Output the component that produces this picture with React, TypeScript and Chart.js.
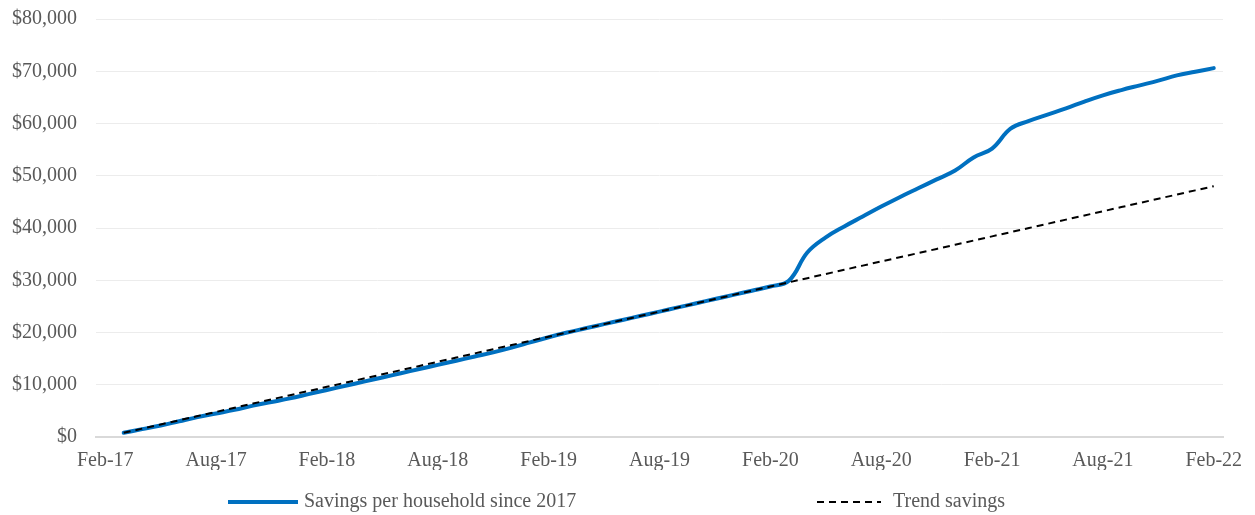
import React, { useEffect, useRef } from "react";
import { Chart, registerables } from "chart.js";

Chart.register(...registerables);

const months: string[] = [
  "Feb-17", "Mar-17", "Apr-17", "May-17", "Jun-17", "Jul-17", "Aug-17", "Sep-17", "Oct-17", "Nov-17", "Dec-17", "Jan-18",
  "Feb-18", "Mar-18", "Apr-18", "May-18", "Jun-18", "Jul-18", "Aug-18", "Sep-18", "Oct-18", "Nov-18", "Dec-18", "Jan-19",
  "Feb-19", "Mar-19", "Apr-19", "May-19", "Jun-19", "Jul-19", "Aug-19", "Sep-19", "Oct-19", "Nov-19", "Dec-19", "Jan-20",
  "Feb-20", "Mar-20", "Apr-20", "May-20", "Jun-20", "Jul-20", "Aug-20", "Sep-20", "Oct-20", "Nov-20", "Dec-20", "Jan-21",
  "Feb-21", "Mar-21", "Apr-21", "May-21", "Jun-21", "Jul-21", "Aug-21", "Sep-21", "Oct-21", "Nov-21", "Dec-21", "Jan-22",
  "Feb-22",
];

const shownTicks: string[] = [
  "Feb-17", "Aug-17", "Feb-18", "Aug-18", "Feb-19", "Aug-19", "Feb-20", "Aug-20", "Feb-21", "Aug-21", "Feb-22",
];

const savings: (number | null)[] = [
  null, 800, 1500, 2200, 3000, 3800, 4500, 5200, 6000, 6700, 7400, 8200,
  9000, 9800, 10600, 11400, 12200, 13000, 13800, 14600, 15400, 16200, 17100, 18100,
  19100, 20000, 20800, 21600, 22400, 23200, 24000, 24800, 25600, 26400, 27200, 28000,
  28800, 29900, 35300, 38200, 40300, 42200, 44100, 45900, 47600, 49300, 51000, 53500,
  55200, 59000, 60500, 61700, 62900, 64200, 65400, 66400, 67300, 68200, 69200, 69900,
  70600,
];

const trend: (number | null)[] = [
  null, 800, 1600, 2400, 3200, 4000, 4800, 5600, 6400, 7200, 8000, 8800,
  9600, 10400, 11200, 12000, 12800, 13600, 14400, 15200, 16000, 16800, 17600, 18400,
  19200, 20000, 20800, 21600, 22400, 23200, 24000, 24800, 25600, 26400, 27200, 28000,
  28800, 29600, 30400, 31200, 32000, 32800, 33600, 34400, 35200, 36000, 36800, 37600,
  38400, 39200, 40000, 40800, 41600, 42400, 43200, 44000, 44800, 45600, 46400, 47200,
  48000,
];

const seriesNames: string[] = ["Savings per household since 2017", "Trend savings"];

const FONT = "'Liberation Serif', 'Times New Roman', serif";
const TEXT = "#595959";

const legendPlugin = {
  id: "customLegend",
  afterDraw(chart: any) {
    const ctx = chart.ctx;
    const items = [
      { x0: 228, x1: 298, tx: 304 },
      { x0: 817, x1: 881, tx: 893 },
    ];
    const y = 502;
    ctx.save();
    chart.data.datasets.forEach((ds: any, i: number) => {
      const it = items[i];
      ctx.beginPath();
      ctx.strokeStyle = ds.borderColor;
      ctx.lineWidth = ds.borderWidth;
      ctx.setLineDash(ds.borderDash || []);
      ctx.moveTo(it.x0, y);
      ctx.lineTo(it.x1, y);
      ctx.stroke();
      ctx.setLineDash([]);
      ctx.fillStyle = TEXT;
      ctx.font = `20px ${FONT}`;
      ctx.textBaseline = "middle";
      ctx.textAlign = "left";
      ctx.fillText(ds.label, it.tx, y);
    });
    ctx.restore();
  },
};

export default function App() {
  const ref = useRef<HTMLCanvasElement | null>(null);

  useEffect(() => {
    if (!ref.current) return;
    const chart = new Chart(ref.current, {
      type: "line",
      data: {
        labels: months,
        datasets: [
          {
            label: seriesNames[0],
            data: savings,
            borderColor: "#0070C0",
            backgroundColor: "#0070C0",
            borderWidth: 4,
            pointRadius: 0,
            tension: 0.4,
            borderCapStyle: "round",
            order: 1,
          },
          {
            label: seriesNames[1],
            data: trend,
            borderColor: "#000000",
            backgroundColor: "#000000",
            borderWidth: 2,
            borderDash: [7, 5],
            pointRadius: 0,
            tension: 0,
            order: 0,
          },
        ],
      },
      options: {
        animation: false,
        responsive: true,
        maintainAspectRatio: false,
        layout: { padding: { top: 19, right: 32, bottom: 45, left: 0 } },
        plugins: {
          legend: { display: false },
          tooltip: { enabled: false },
        },
        scales: {
          x: {
            type: "category",
            offset: true,
            grid: { display: false, drawTicks: false },
            border: { display: true, color: "#d9d9d9", width: 2 },
            ticks: {
              autoSkip: false,
              maxRotation: 0,
              padding: 12,
              color: TEXT,
              font: { family: FONT, size: 20 },
              callback: (_v: any, idx: number) =>
                shownTicks.includes(months[idx]) ? months[idx] : null,
            },
            afterFit: (s: any) => {
              s.height = 33;
            },
          },
          y: {
            min: 0,
            max: 80000,
            grid: { color: "#ececec", lineWidth: 1, drawTicks: false },
            border: { display: false },
            ticks: {
              stepSize: 10000,
              padding: 19,
              color: TEXT,
              font: { family: FONT, size: 20 },
              callback: (v: any) => "$" + Number(v).toLocaleString("en-US"),
            },
            afterFit: (s: any) => {
              s.width = 96;
              s.paddingTop = 0;
              s.paddingBottom = 0;
            },
          },
        },
      },
      plugins: [legendPlugin],
    });
    return () => chart.destroy();
  }, []);

  return (
    <div style={{ position: "fixed", left: 0, top: 0, width: 1255, height: 515, background: "#fff" }}>
      <canvas ref={ref} />
    </div>
  );
}
